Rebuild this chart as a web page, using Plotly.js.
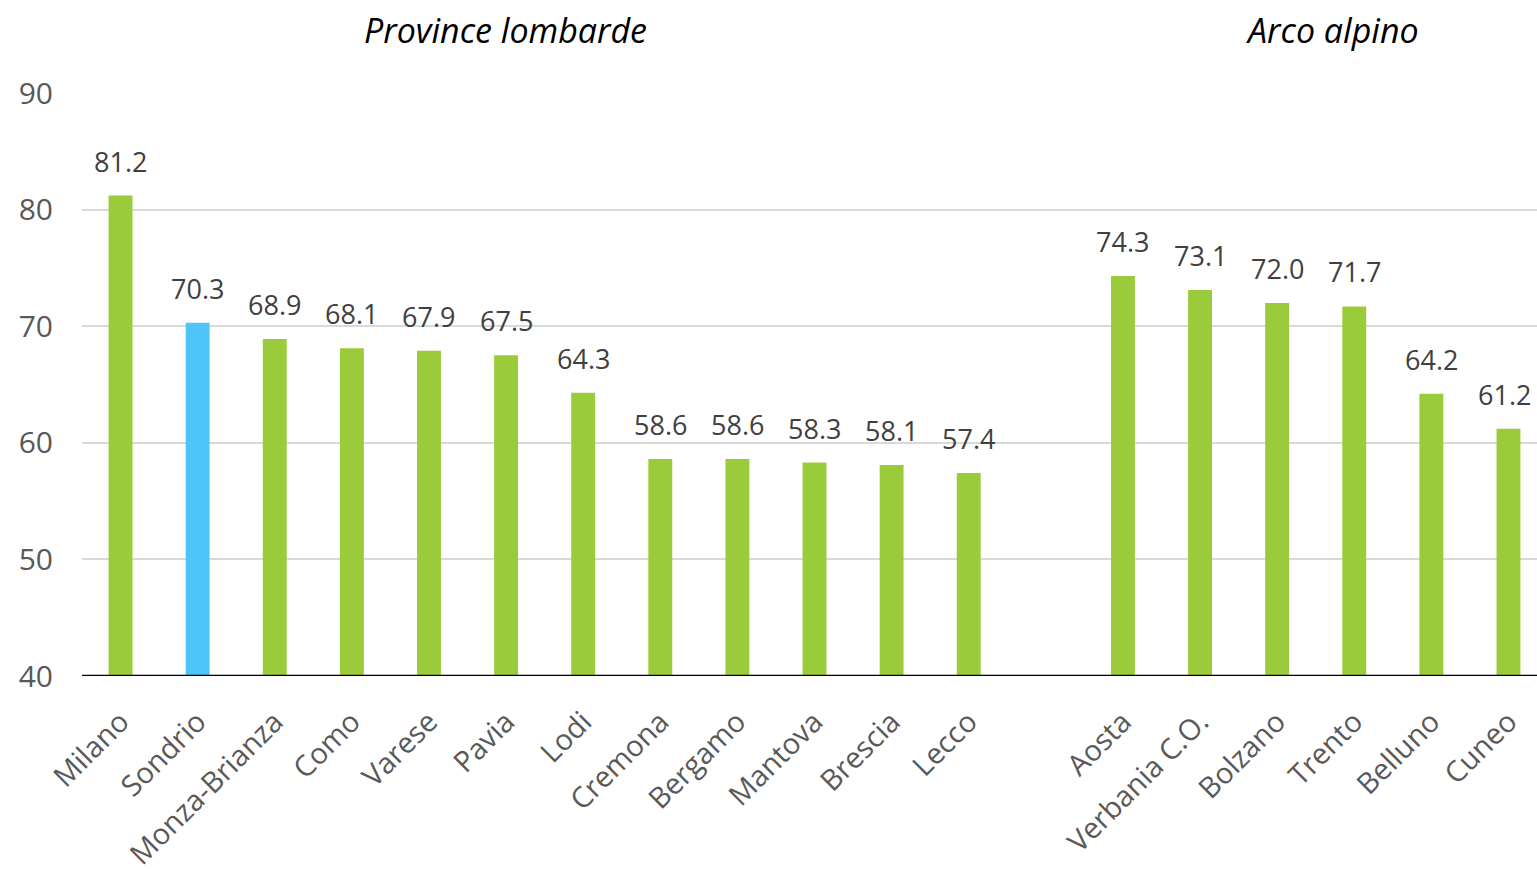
<!DOCTYPE html>
<html>
<head>
<meta charset="utf-8">
<script src="https://cdn.plot.ly/plotly-3.0.1.min.js"></script>
<style>
  html, body { margin: 0; padding: 0; background: #fff; }
  #myDiv { width: 1537px; height: 869px; }
</style>
</head>
<body>
<div id="myDiv"></div>
<script>
// Province lombarde, then an empty slot, then Arco alpino
const provinces = ['Milano', 'Sondrio', 'Monza-Brianza', 'Como', 'Varese', 'Pavia', 'Lodi',
    'Cremona', 'Bergamo', 'Mantova', 'Brescia', 'Lecco'];
const provinceValues = [81.2, 70.3, 68.9, 68.1, 67.9, 67.5, 64.3, 58.6, 58.6, 58.3, 58.1, 57.4];

const alpine = ['Aosta', 'Verbania C.O.', 'Bolzano', 'Trento', 'Belluno', 'Cuneo'];
const alpineValues = [74.3, 73.1, 72.0, 71.7, 64.2, 61.2];

const highlight = 'Sondrio';
const groupTitles = ['Province lombarde', 'Arco alpino'];

const GREEN = '#9ACB3A';
const BLUE = '#4FC4F8';

// x positions: one empty slot between the two groups
const names = provinces.concat(alpine);
const values = provinceValues.concat(alpineValues);
const xs = names.map((n, i) => i < provinces.length ? i : i + 1);

const trace = {
    x: xs,
    y: values,
    type: 'bar',
    width: 0.31,
    marker: { color: names.map(n => n === highlight ? BLUE : GREEN) },
    hoverinfo: 'skip'
};

// value labels above bars (last one nudged so it stays inside the page)
const valueLabels = values.map((v, i) => ({
    x: xs[i],
    y: v,
    xref: 'x',
    yref: 'y',
    text: v.toFixed(1),
    showarrow: false,
    yanchor: 'bottom',
    yshift: 14,
    xshift: i === values.length - 1 ? -4 : 0,
    font: { family: 'Open Sans', size: 27, color: '#404040' }
}));

// plot area: top 93px, height 583px
const titleY = 1 + (93 - 30) / 583;
const titleFont = { family: 'Open Sans', size: 34, color: '#000' };
const groupLabels = [
    { text: '<i>' + groupTitles[0] + '</i>', x: (505 - 82) / 1455 },
    { text: '<i>' + groupTitles[1] + '</i>', x: (1332 - 82) / 1455 }
].map(a => ({
    text: a.text,
    x: a.x,
    y: titleY,
    xref: 'paper',
    yref: 'paper',
    xanchor: 'center',
    yanchor: 'middle',
    showarrow: false,
    font: titleFont
}));

const layout = {
    width: 1537,
    height: 869,
    margin: { l: 82, r: 0, t: 93, b: 193 },
    paper_bgcolor: '#fff',
    plot_bgcolor: '#fff',
    showlegend: false,
    xaxis: {
        range: [-0.5, 18.37],
        tickmode: 'array',
        tickvals: xs,
        ticktext: names,
        tickangle: -45,
        ticks: '',
        ticklabelstandoff: 22,
        showgrid: false,
        zeroline: false,
        showline: false,
        tickfont: { family: 'Open Sans', size: 29, color: '#595959' },
        fixedrange: true
    },
    yaxis: {
        range: [40, 90],
        tickvals: [40, 50, 60, 70, 80, 90],
        showgrid: true,
        gridcolor: '#D9D9D9',
        gridwidth: 2,
        zeroline: false,
        showline: false,
        ticks: '',
        ticklabelstandoff: 28,
        tickfont: { family: 'Open Sans', size: 30, color: '#595959' },
        fixedrange: true
    },
    shapes: [{
        type: 'line',
        xref: 'paper',
        yref: 'y',
        x0: 0, x1: 1,
        y0: 40, y1: 40,
        line: { color: '#000', width: 2.5 }
    }],
    annotations: valueLabels.concat(groupLabels)
};

Plotly.newPlot('myDiv', [trace], layout, { displayModeBar: false, staticPlot: true });
</script>
</body>
</html>
